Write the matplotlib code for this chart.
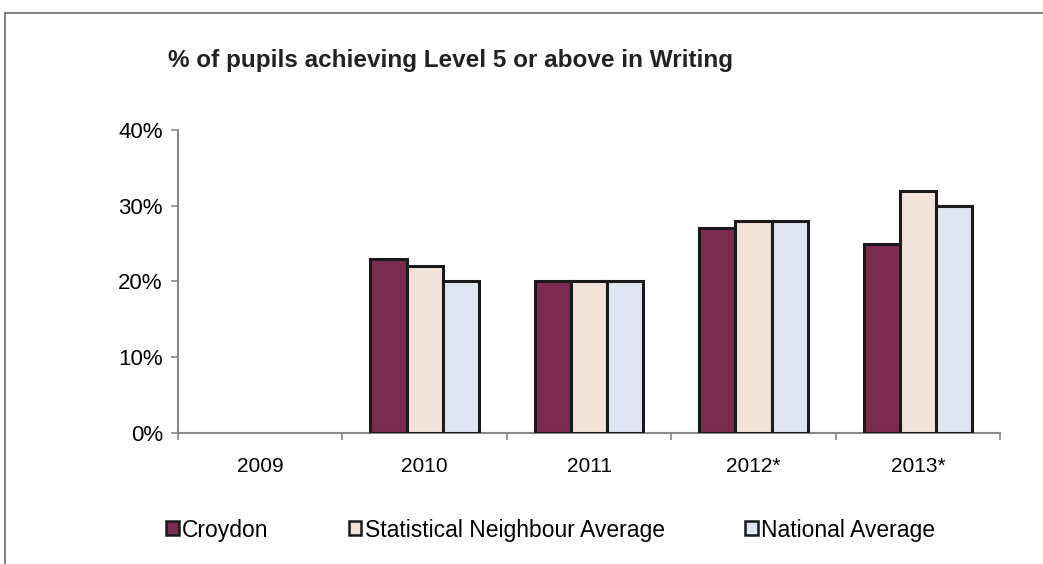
import numpy as np
import matplotlib
matplotlib.use("Agg")
import matplotlib.pyplot as plt
from matplotlib.patches import Patch
from matplotlib.lines import Line2D

# % of pupils at Level 5+ in Writing, by year
years = ["2009", "2010", "2011", "2012*", "2013*"]
croydon = [0, 23, 20, 27, 25]
stat_neighbour = [0, 22, 20, 28, 32]
national = [0, 20, 20, 28, 30]
series_names = ["Croydon", "Statistical Neighbour Average", "National Average"]
colors = ["#7a2d50", "#f1e3da", "#dfe5f0"]

plt.rcParams["font.family"] = ["Liberation Sans", "DejaVu Sans"]

fig = plt.figure(figsize=(10.43, 5.64), dpi=100)
ax = fig.add_axes([0.1707, 0.2323, 0.7881, 0.5372])

x = np.arange(len(years))
w = 0.22
for i, (vals, c) in enumerate(zip([croydon, stat_neighbour, national], colors)):
    v = np.array(vals, dtype=float)
    show = v > 0
    ax.bar(x[show] + (i - 1) * w, v[show], width=w, color=c,
           edgecolor="#1a1a1a", linewidth=2.2, zorder=3)

ax.set_xlim(-0.5, len(years) - 0.5)
ax.set_ylim(0, 40)
ax.set_yticks([0, 10, 20, 30, 40])
ax.set_yticklabels([f"{t}%" for t in [0, 10, 20, 30, 40]], fontsize=16)
ax.set_xticks(x)
ax.set_xticklabels(years, fontsize=15)
ax.tick_params(axis="x", length=0, pad=17)
ax.tick_params(axis="y", length=5, width=1.2, color="#888888", pad=6,
               direction="out")
ax.set_xticks(np.arange(-0.5, len(years)), minor=True)
ax.tick_params(axis="x", which="minor", length=5, width=1.2, color="#888888",
               direction="out")

for s in ["top", "right"]:
    ax.spines[s].set_visible(False)
for s in ["left", "bottom"]:
    ax.spines[s].set_color("#8a8a8a")
    ax.spines[s].set_linewidth(1.5)

fig.text(168 / 1043, 1 - 60 / 564, "% of pupils achieving Level 5 or above in Writing",
         fontsize=17.5, fontweight="bold", va="center", ha="left", color="#222222")

# outer frame of the chart area (top and left edges)
fig.add_artist(Line2D([5 / 1043, 1.0], [1 - 13 / 564] * 2, color="#777777", lw=1.3))
fig.add_artist(Line2D([5 / 1043] * 2, [0, 1 - 13 / 564], color="#777777", lw=1.3))

handles = [Patch(facecolor=c, edgecolor="#1a1a1a", linewidth=1.8) for c in colors]
fig.legend(handles, series_names, loc="center left",
           bbox_to_anchor=(166 / 1043, 1 - 530 / 564), ncol=3, frameon=False,
           fontsize=16.5, handlelength=0.55, handleheight=0.55, handletextpad=0.15,
           columnspacing=3.5, borderpad=0, borderaxespad=0)

fig.savefig("out.png", dpi=100)
